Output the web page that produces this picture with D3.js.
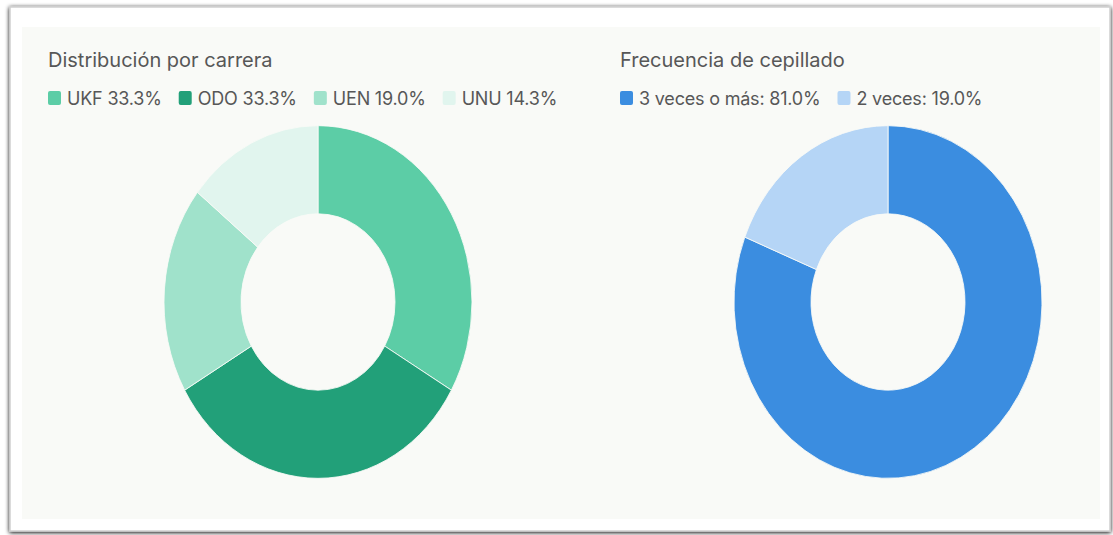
<!DOCTYPE html>
<html>
<head>
<meta charset="utf-8">
<script src="https://cdn.jsdelivr.net/npm/d3@7"></script>
<style>
  html,body{margin:0;padding:0;background:#ffffff;}
  svg{display:block;font-family:Inter,"Noto Sans",sans-serif;}
  .title{font-size:20px;fill:#575757;}
  .legend-label{font-size:18px;fill:#575757;letter-spacing:-0.2px;}
</style>
</head>
<body>
<div id="chart"></div>
<script>
// carrera distribution (%)
var carreraLabels=["UKF","ODO","UEN","UNU"];
var carreraValues=[33.3,33.3,19.0,14.3];
var carreraColors=["#5ccda6","#22a079","#a0e2cb","#e1f5ee"];

// brushing frequency (%)
var cepLabels=["3 veces o más:","2 veces:"];
var cepValues=[81.0,19.0];
var cepColors=["#3b8de0","#b5d5f6"];

var W=1113,H=535;
var svg=d3.select("#chart").append("svg").attr("width",W).attr("height",H);

var defs=svg.append("defs");
var f=defs.append("filter").attr("id","shadow").attr("x","-5%").attr("y","-5%").attr("width","110%").attr("height","110%");
f.append("feGaussianBlur").attr("in","SourceAlpha").attr("stdDeviation",2);
f.append("feOffset").attr("dx",0).attr("dy",1).attr("result","b");
var fm=f.append("feMerge"); fm.append("feMergeNode").attr("in","b"); fm.append("feMergeNode").attr("in","SourceGraphic");

// card + inner panel
svg.append("rect").attr("x",10).attr("y",7).attr("width",1100).attr("height",524)
    .attr("fill","#fff").attr("stroke","#cfcfcf").attr("stroke-width",1.5).attr("filter","url(#shadow)");
svg.append("rect").attr("x",22).attr("y",27).attr("width",1078).attr("height",492).attr("fill","#f9faf7");

function donut(opts){
    var g=svg.append("g");
    g.append("text").attr("class","title").attr("x",opts.x).attr("y",67).text(opts.title);

    var lg=g.append("g").attr("transform","translate("+opts.x+",91)");
    var lx=0;
    opts.labels.forEach(function(l,i){
        var grp=lg.append("g").attr("transform","translate("+lx+",0)");
        grp.append("rect").attr("width",13).attr("height",14).attr("rx",2).attr("fill",opts.colors[i]);
        var t=grp.append("text").attr("class","legend-label").attr("x",19).attr("y",13.5)
            .text(l+" "+opts.values[i].toFixed(1)+"%");
        lx+=19+t.node().getComputedTextLength()+opts.gap;
    });

    var pie=d3.pie().sort(null).value(function(d){return d;});
    var arc=d3.arc().innerRadius(77).outerRadius(154);
    var cg=g.append("g").attr("transform","translate("+opts.cx+",302) scale(1,1.145)");
    cg.selectAll("path").data(pie(opts.values)).enter().append("path")
        .attr("d",arc).attr("fill",function(d,i){return opts.colors[i];})
        .attr("stroke","#f9faf7").attr("stroke-width",0.8);
}

donut({title:"Distribución por carrera",x:48,cx:318,labels:carreraLabels,values:carreraValues,colors:carreraColors,gap:17});
donut({title:"Frecuencia de cepillado",x:620,cx:888,labels:cepLabels,values:cepValues,colors:cepColors,gap:17});
</script>
</body>
</html>
